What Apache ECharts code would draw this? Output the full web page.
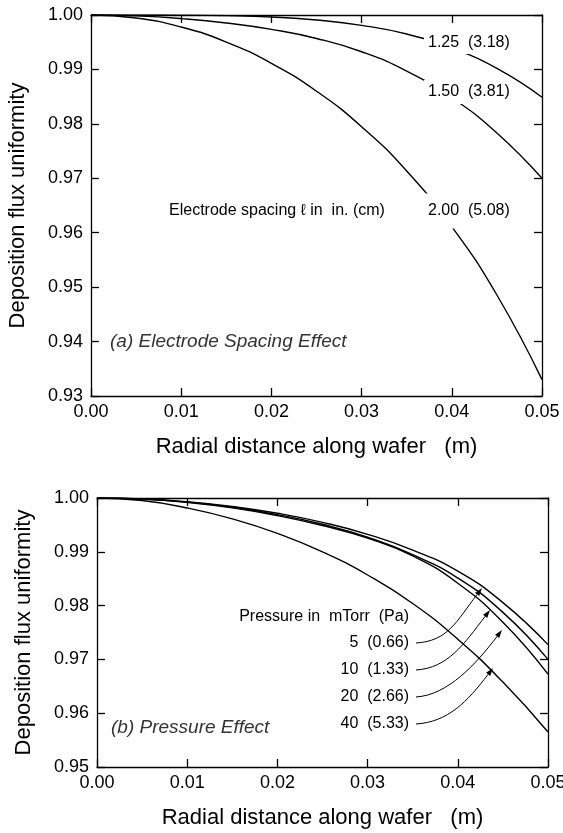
<!DOCTYPE html>
<html lang="en">

<head>
  <meta charset="UTF-8">
  <title>Deposition flux uniformity</title>
  <script src="https://cdn.jsdelivr.net/npm/echarts@6/dist/echarts.min.js"></script>
  <style>
    html,
    body {
      margin: 0;
      padding: 0;
      background: #fff;
    }
  </style>
</head>

<body>
  <div id="main" style="width:563px;height:833px;"></div>
</body>
<script>
  // radial distance along wafer (m)
  let radius = [0, 0.005, 0.01, 0.015, 0.02, 0.025, 0.03, 0.035, 0.04, 0.045, 0.05]

  // (a) electrode spacing
  let spacing125 = [1.0000, 1.0000, 0.99998, 0.99988, 0.99962, 0.99908, 0.9981, 0.9965, 0.9939, 0.9902, 0.9849]
  let spacing150 = [1.0000, 0.99983, 0.99934, 0.99854, 0.99736, 0.99569, 0.99325, 0.98971, 0.9848, 0.97833, 0.9700]
  let spacing200 = [1.0000, 0.99945, 0.99779, 0.99503, 0.99112, 0.9860, 0.97948, 0.97133, 0.96112, 0.94856, 0.9330]
  let spacingNames = ['1.25  (3.18)', '1.50  (3.81)', '2.00  (5.08)']

  // (b) pressure
  let pressure5 = [1.0000, 0.99983, 0.9993, 0.99841, 0.99716, 0.99547, 0.99325, 0.99032, 0.9864, 0.98056, 0.97275]
  let pressure10 = [1.0000, 0.99981, 0.99924, 0.99829, 0.99692, 0.99512, 0.99271, 0.98946, 0.98512, 0.97874, 0.9700]
  let pressure20 = [1.0000, 0.9998, 0.99918, 0.99816, 0.99672, 0.99488, 0.99253, 0.98922, 0.98416, 0.97691, 0.96725]
  let pressure40 = [1.0000, 0.99953, 0.99815, 0.99613, 0.99344, 0.9900, 0.98569, 0.9804, 0.97376, 0.96578, 0.9565]
  let pressureNames = ['5  (0.66)', '10  (1.33)', '20  (2.66)', '40  (5.33)']

  let font = '"Liberation Sans", Arial, Helvetica, sans-serif'
  initChart()

  function frameLine() {
    return { show: true, onZero: false, lineStyle: { color: '#000', width: 1.3 } }
  }

  function frameTick() {
    return { show: true, inside: true, length: 8, lineStyle: { color: '#000', width: 1.3 } }
  }

  function makeX(gridIndex, position, withLabel) {
    let axis = {
      gridIndex: gridIndex,
      type: 'value',
      position: position,
      min: 0,
      max: 0.05,
      interval: 0.01,
      axisLine: frameLine(),
      axisTick: frameTick(),
      axisLabel: {
        show: withLabel,
        color: '#000',
        fontSize: 18,
        fontFamily: font,
        margin: 7,
        formatter: function (v) { return v.toFixed(2) }
      },
      splitLine: { show: false }
    }
    if (withLabel) {
      axis.name = 'Radial distance along wafer   (m)'
      axis.nameLocation = 'middle'
      axis.nameGap = 40
      axis.nameTextStyle = { color: '#000', fontSize: 22, fontFamily: font }
    }
    return axis
  }

  function makeY(gridIndex, position, min, withLabel) {
    let axis = {
      gridIndex: gridIndex,
      type: 'value',
      position: position,
      min: min,
      max: 1.0,
      interval: 0.01,
      axisLine: frameLine(),
      axisTick: frameTick(),
      axisLabel: {
        show: withLabel,
        color: '#000',
        fontSize: 18,
        fontFamily: font,
        margin: 8,
        formatter: function (v) { return v.toFixed(2) }
      },
      splitLine: { show: false }
    }
    if (withLabel) {
      axis.name = 'Deposition flux uniformity'
      axis.nameLocation = 'middle'
      axis.nameGap = 62
      axis.nameTextStyle = { color: '#000', fontSize: 22, fontFamily: font }
    }
    return axis
  }

  function curve(values, axisIndex) {
    return {
      type: 'line',
      xAxisIndex: axisIndex,
      yAxisIndex: axisIndex,
      data: radius.map(function (x, i) { return [x, values[i]] }),
      showSymbol: false,
      smooth: 0.5,
      silent: true,
      lineStyle: { color: '#000', width: 1.4 },
      z: 2
    }
  }

  function text(str, x, y, opts) {
    opts = opts || {}
    return {
      type: 'text',
      x: x,
      y: y,
      z: 10,
      silent: true,
      style: {
        text: str,
        fill: opts.color || '#000',
        font: (opts.italic ? 'italic ' : '') + (opts.size || 16) + 'px ' + font,
        textAlign: opts.align || 'left',
        textVerticalAlign: 'middle',
        backgroundColor: opts.bg || null,
        padding: opts.padding || 0
      }
    }
  }

  function arrow(x0, y0, tx, ty) {
    let c2x = tx - 26
    let c2y = ty + 34
    let dx = tx - c2x
    let dy = ty - c2y
    let len = Math.sqrt(dx * dx + dy * dy)
    dx /= len
    dy /= len
    let hl = 8
    let hw = 2.6
    let bx = tx - dx * hl
    let by = ty - dy * hl
    return [{
      type: 'bezierCurve',
      z: 10,
      silent: true,
      shape: { x1: x0, y1: y0, cpx1: x0 + 32, cpy1: y0 - 2, cpx2: c2x, cpy2: c2y, x2: bx, y2: by },
      style: { stroke: '#000', lineWidth: 1, fill: null }
    }, {
      type: 'polygon',
      z: 10,
      silent: true,
      shape: { points: [[tx, ty], [bx - dy * hw, by + dx * hw], [bx + dy * hw, by - dx * hw]] },
      style: { fill: '#000' }
    }]
  }

  function initChart() {
    let myChart = echarts.init(document.getElementById('main'))

    let graphics = [
      text(spacingNames[0], 424, 43, { bg: '#fff', padding: [4, 4, 2, 4] }),
      text(spacingNames[1], 424, 92, { bg: '#fff', padding: [6, 4, 2, 4] }),
      text(spacingNames[2], 424, 211, { bg: '#fff', padding: [16, 4, 3, 4] }),
      text('Electrode spacing \u2113 in  in. (cm)', 169, 211),
      text('(a) Electrode Spacing Effect', 110, 342, { italic: true, size: 19, color: '#333' }),
      text('Pressure in  mTorr  (Pa)', 409, 617, { align: 'right' }),
      text('(b) Pressure Effect', 111, 728, { italic: true, size: 19, color: '#333' })
    ]
    let labelY = [643, 670, 697, 724]
    let tips = [[482, 588], [490, 610], [502, 630], [493, 668]]
    pressureNames.forEach(function (name, i) {
      graphics.push(text(name, 409, labelY[i], { align: 'right' }))
      graphics = graphics.concat(arrow(416, labelY[i], tips[i][0], tips[i][1]))
    })

    let option = {
      animation: false,
      backgroundColor: '#fff',
      textStyle: { fontFamily: font },
      grid: [
        { left: 91, top: 15, width: 451, height: 381, outerBoundsMode: 'none' },
        { left: 97, top: 498, width: 451, height: 269, outerBoundsMode: 'none' }
      ],
      xAxis: [
        makeX(0, 'bottom', true),
        makeX(0, 'top', false),
        makeX(1, 'bottom', true),
        makeX(1, 'top', false)
      ],
      yAxis: [
        makeY(0, 'left', 0.93, true),
        makeY(0, 'right', 0.93, false),
        makeY(1, 'left', 0.95, true),
        makeY(1, 'right', 0.95, false)
      ],
      series: [
        curve(spacing125, 0),
        curve(spacing150, 0),
        curve(spacing200, 0),
        curve(pressure5, 2),
        curve(pressure10, 2),
        curve(pressure20, 2),
        curve(pressure40, 2)
      ],
      graphic: graphics
    }
    myChart.setOption(option)
  }
</script>

</html>
